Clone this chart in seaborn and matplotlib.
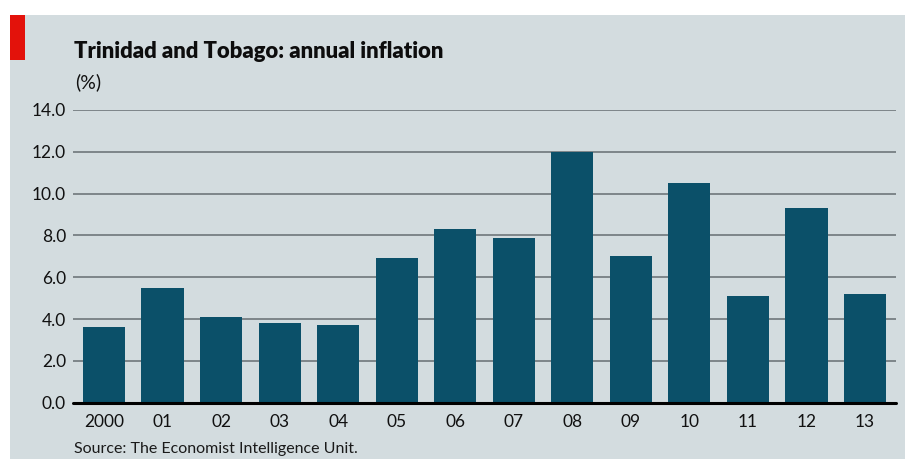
import matplotlib
matplotlib.use("Agg")
import matplotlib.pyplot as plt
import seaborn as sns
import pandas as pd
from matplotlib.patches import Rectangle

years = ["2000", "01", "02", "03", "04", "05", "06", "07", "08", "09", "10", "11", "12", "13"]
inflation = [3.6, 5.5, 4.1, 3.8, 3.7, 6.9, 8.3, 7.9, 12.0, 7.0, 10.5, 5.1, 9.3, 5.2]
yticks = [0, 2, 4, 6, 8, 10, 12, 14]

df = pd.DataFrame({"year": years, "inflation": inflation})

sns.set_theme(style="white")
plt.rcParams['font.family'] = ['Lato', 'DejaVu Sans']

BG = "#d3dcdf"
BAR = "#0b5069"

fig = plt.figure(figsize=(9.05, 4.59), dpi=100)
fig.patch.set_facecolor("white")
W, H = 905, 459
fig.patches.append(Rectangle((10 / W, 0), 1 - 10 / W, 1 - 15 / H, transform=fig.transFigure,
                             facecolor=BG, edgecolor="none", zorder=-2))
fig.patches.append(Rectangle((10 / W, 1 - 60 / H), 15 / W, 45 / H, transform=fig.transFigure,
                             facecolor="#e3120b", edgecolor="none", zorder=-1))

ax = fig.add_axes([73 / W, 1 - 402.7 / H, (896 - 73) / W, (402.7 - 110) / H])
ax.set_zorder(5)
ax.set_facecolor("none")
sns.barplot(data=df, x="year", y="inflation", color=BAR, width=0.72, saturation=1,
            linewidth=0, edgecolor=BAR, ax=ax, zorder=3)
ax.set_xlim(-0.53, 13.53)
ax.set_ylim(0, 14)
ax.set_yticks(yticks)
ax.set_yticklabels([f"{v:.1f}" for v in yticks])
for v in yticks[1:]:
    ax.axhline(v, color="#767e82", lw=1.3, zorder=1)
ax.axhline(0, color="black", lw=2.2, zorder=4, clip_on=False)
for s in ax.spines.values():
    s.set_visible(False)
ax.tick_params(axis="both", length=0, labelsize=12.5, colors="#111111")
ax.tick_params(axis="y", pad=5)
ax.tick_params(axis="x", pad=8)
ax.set_xlabel("")
ax.set_ylabel("")

fig.text(74 / W, 1 - 52 / H, "Trinidad and Tobago: annual inflation", fontsize=15.8,
         fontweight="heavy", color="#0d0d0d", va="center", ha="left")
fig.text(75 / W, 1 - 82 / H, "(%)", fontsize=14, color="#111111", va="center", ha="left")
fig.text(74 / W, 1 - 449 / H, "Source: The Economist Intelligence Unit.", fontsize=11.5,
         color="#1a1a1a", va="center", ha="left")

fig.savefig("out.png", dpi=100, facecolor=fig.get_facecolor())
